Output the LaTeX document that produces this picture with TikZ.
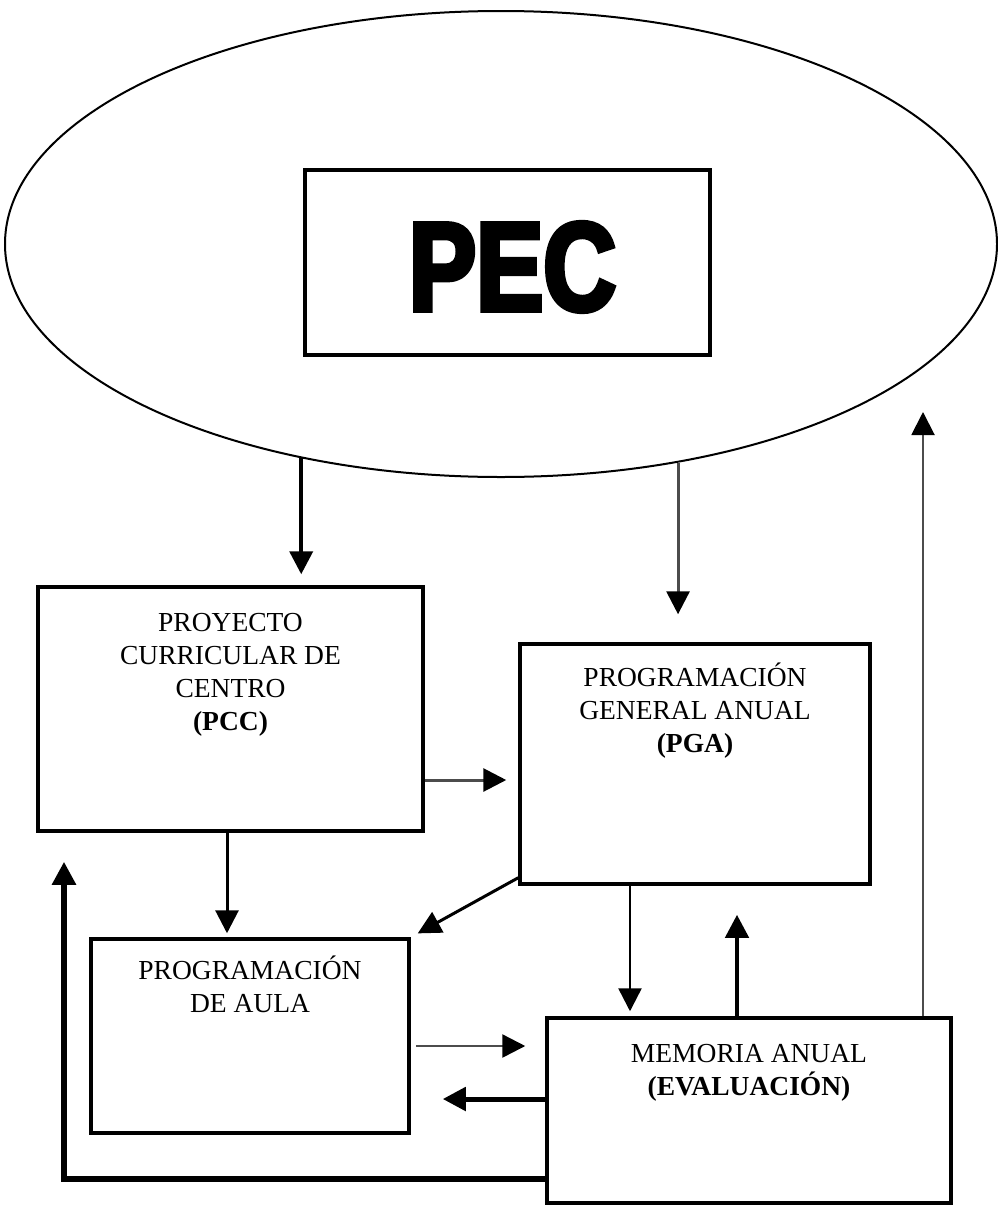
\documentclass[tikz,border=0pt]{standalone}
\usepackage{fontspec}
\setmainfont{Liberation Serif}
\newfontfamily\pecfont[UprightFont={* Bold},FakeStretch=0.8,FakeBold=4]{Liberation Sans}
\usetikzlibrary{arrows.meta,positioning,shapes.geometric}

\begin{document}
\begin{tikzpicture}[
  x=1pt,y=-1pt,
  >={Triangle[length=23pt,width=23pt]},
  box/.style={draw,line width=3.5pt,inner sep=0pt},
  boxtext/.style={align=center,inner sep=0pt,font=\fontsize{27.5}{33}\selectfont},
  link/.style={->,line width=3pt},
  faint/.style={draw=black!70,-{Triangle[length=23pt,width=23pt,black]}}
]
  \useasboundingbox (0,0) rectangle (997,1205);

  \node[ellipse,draw,line width=2pt,minimum width=992pt,minimum height=466pt] (pecring) at (501,244) {};
  \node[box,minimum width=405pt,minimum height=185pt] (pec) at (507.5,262.5) {};
  \node[inner sep=0pt,font=\pecfont\fontsize{126}{126}\selectfont] (pectext)
    at ([xshift=5pt,yshift=-4.5pt]pec.center) {PEC};

  \node[box,minimum width=385pt,minimum height=244pt] (pcc) at (230.5,709) {};
  \node[box,minimum width=350pt,minimum height=240pt] (pga) at (695,764) {};
  \node[box,minimum width=318pt,minimum height=194pt] (aula) at (250,1036) {};
  \node[box,minimum width=404pt,minimum height=185pt] (mem) at (749,1110.5) {};

  \node[boxtext,below=28pt of pcc.north] (pcctext)
    {PROYECTO\\CURRICULAR DE\\CENTRO\\\textbf{(PCC)}};
  \node[boxtext,below=20pt of pga.north] (pgatext)
    {PROGRAMACIÓN\\GENERAL ANUAL\\\textbf{(PGA)}};
  \node[boxtext,below=18pt of aula.north] (aulatext)
    {PROGRAMACIÓN\\DE AULA};
  \node[boxtext,below=28pt of mem.north] (memtext)
    {MEMORIA ANUAL\\\textbf{(EVALUACIÓN)}};

  \coordinate (ringtip) at (923,412);

  % from the PEC down to the plans
  \draw[link,line width=4pt,shorten >=11pt] (pecring.227.5) -- (pecring.227.5 |- pcc.north);
  \draw[link,faint,shorten >=28pt] (pecring.309.8) -- (pecring.309.8 |- pga.north);

  \draw[link,faint,shorten >=12pt] ([yshift=-71pt]pcc.east) -- ([yshift=-71pt]pcc.east -| pga.west);
  \draw[link,shorten >=4pt] ([xshift=-3.5pt]pcc.south) -- ([xshift=-3.5pt]pcc.south |- aula.north);
  \draw[link,shorten >=8pt] ([yshift=8pt]pga.south west) -- (aula.north east);
  \draw[link,line width=2.5pt,shorten >=5pt] ([xshift=-65pt]pga.south) -- ([xshift=-65pt]pga.south |- mem.north);

  % feedback of the memoria
  \draw[link,line width=4.5pt,shorten >=29pt] ([xshift=-12pt]mem.north) -- ([xshift=-12pt]mem.north |- pga.south);
  \draw[link,faint,line width=2pt] ([xshift=174pt]mem.north) -- (ringtip);
  \draw[link,faint,line width=2.5pt,shorten <=5pt,shorten >=20pt] ([yshift=-10pt]aula.east) -- ([yshift=-10pt]aula.east -| mem.west);
  \draw[link,line width=5pt,shorten >=32pt] ([yshift=11.5pt]mem.west) -- ([yshift=11.5pt]mem.west -| aula.east);
  \draw[link,line width=5.5pt,shorten >=29pt] ([yshift=-68.5pt]mem.west) -| ([xshift=-166.5pt]pcc.south);
\end{tikzpicture}
\end{document}
